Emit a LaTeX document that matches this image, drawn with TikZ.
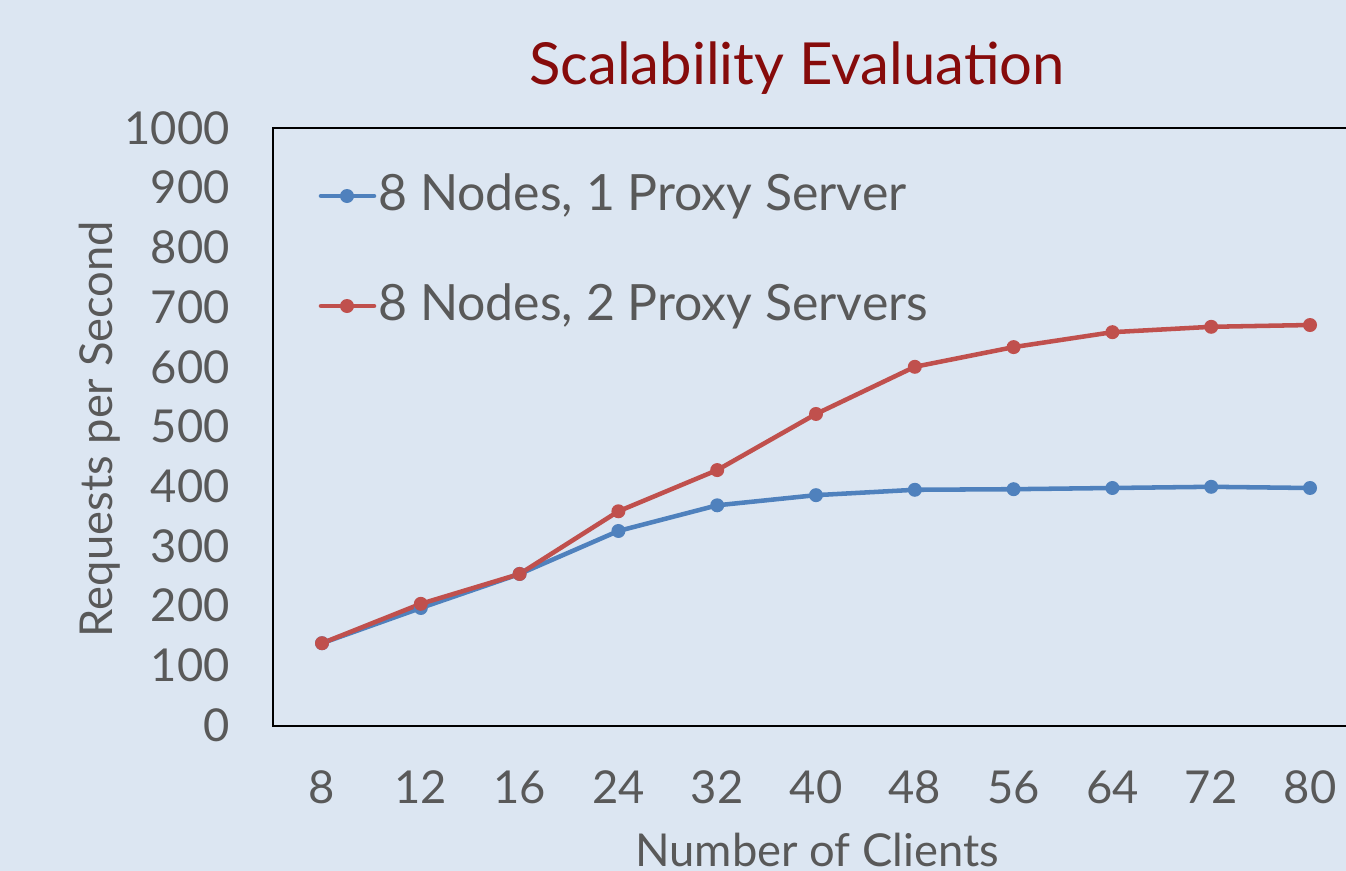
\documentclass[tikz,border=0pt]{standalone}
\usepackage{fontspec}
\setmainfont{Lato}
\usepackage{tikz}

\definecolor{slidebg}{RGB}{220,230,242}
\definecolor{txtgray}{RGB}{89,89,89}
\definecolor{titlered}{RGB}{134,11,11}
\definecolor{seriesblue}{RGB}{79,129,189}
\definecolor{seriesred}{RGB}{192,80,77}

\tikzset{
  ticklabel/.style={text=txtgray,font=\fontsize{34}{34}\selectfont,inner sep=0.75pt},
  axistitle/.style={text=txtgray,font=\fontsize{34}{34}\selectfont,inner sep=0.75pt},
  legendtext/.style={text=txtgray,font=\fontsize{37.5}{37.5}\selectfont,inner sep=0.75pt,anchor=west},
  seriesline/.style={line width=3.4pt,line join=round,line cap=round},
  seriesdot/.style={circle,inner sep=0pt,minimum size=10.5pt}
}

\begin{document}
\begin{tikzpicture}[x=0.75pt,y=0.75pt,yscale=-1,xscale=1]
%set diagram to the size of the slide
\fill[slidebg] (0,0) rectangle (1346,871);
\useasboundingbox (0,0) rectangle (1346,871);
\clip (0,0) rectangle (1346,871);

% Title
\node[text=titlered,font=\fontsize{43.5}{43.5}\selectfont,inner sep=0.75pt] (title) at (797,68) {Scalability Evaluation};

%Plot frame
\coordinate (frametr) at (1360,128);
\coordinate (frametl) at (273,128);
\coordinate (framebl) at (273,726);
\coordinate (framebr) at (1360,726);
\draw[line width=1.5pt] (frametr) -- (frametl) -- (framebl) -- (framebr);

% Y tick labels
\foreach \v in {0,100,...,1000}
  \node[ticklabel,anchor=east] (ylab\v) at (231,{725-\v*0.597}) {\v};

% X tick labels
\foreach \c [count=\i from 0] in {8,12,16,24,32,40,48,56,64,72,80}
  \node[ticklabel] (xlab\i) at ({322+\i*98.8},787) {\c};

% Axis titles
\node[axistitle] (xtitle) at (817,850) {Number of Clients};
\node[axistitle,rotate=90] (ytitle) at (100,429) {Requests per Second};

% Data points, 8 Nodes 1 Proxy Server
\foreach \v [count=\i from 0] in {137,196,253,325,368,385,394,395,397,399,397}
  \coordinate (b\i) at ({322+\i*98.8},{725-\v*0.597});
% Data points, 8 Nodes 2 Proxy Servers
\foreach \v [count=\i from 0] in {137,203,253,358,427,521,600,633,658,667,670}
  \coordinate (r\i) at ({322+\i*98.8},{725-\v*0.597});

%Series lines
\draw[seriesline,seriesblue] (b0) \foreach \i in {1,...,10}{ -- (b\i)};
\draw[seriesline,seriesred] (r0) \foreach \i in {1,...,10}{ -- (r\i)};
\foreach \i in {0,...,10}{
  \node[seriesdot,fill=seriesblue] (bdot\i) at (b\i) {};
  \node[seriesdot,fill=seriesred] (rdot\i) at (r\i) {};
}

% Legend
\coordinate (lbs) at (321,196);
\coordinate (lbe) at (374,196);
\draw[seriesline,seriesblue] (lbs) -- (lbe);
\node[seriesdot,fill=seriesblue] (lbdot) at (347,196) {};
\node[legendtext] (lbtext) at (377,196) {8 Nodes, 1 Proxy Server};

\coordinate (lrs) at (321,306);
\coordinate (lre) at (374,306);
\draw[seriesline,seriesred] (lrs) -- (lre);
\node[seriesdot,fill=seriesred] (lrdot) at (347,306) {};
\node[legendtext] (lrtext) at (377,306) {8 Nodes, 2 Proxy Servers};

\end{tikzpicture}
\end{document}
